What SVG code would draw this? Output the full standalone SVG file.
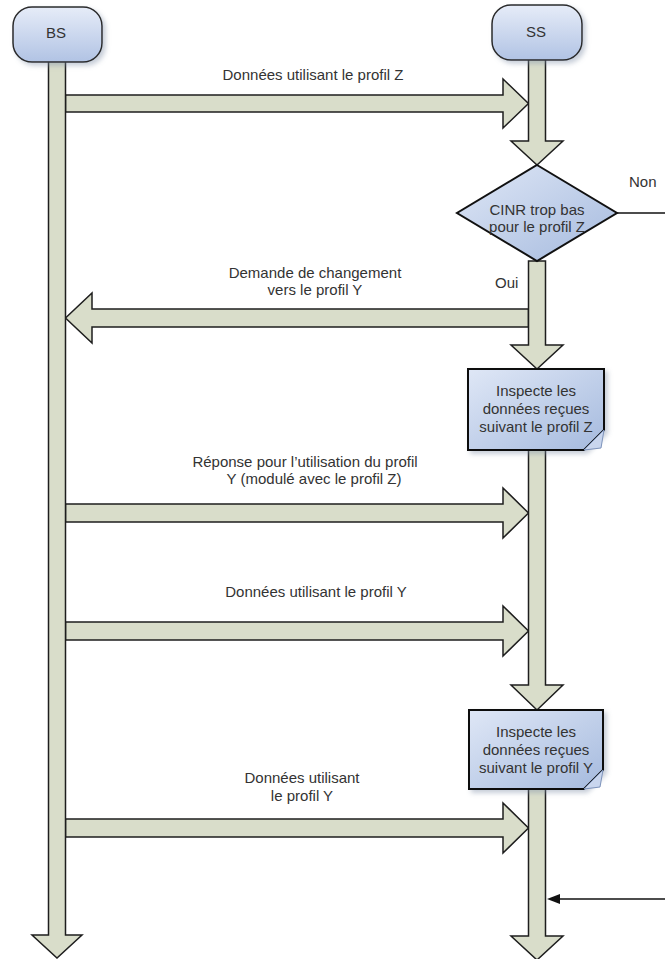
<svg xmlns="http://www.w3.org/2000/svg" width="665" height="959" viewBox="0 0 665 959">
<defs>
  <linearGradient id="gNode" x1="0" y1="0" x2="0" y2="1">
    <stop offset="0" stop-color="#e6ecf8"/>
    <stop offset="1" stop-color="#b1c3e4"/>
  </linearGradient>
  <linearGradient id="gShape" x1="0" y1="0" x2="1" y2="1">
    <stop offset="0" stop-color="#dfe7f6"/>
    <stop offset="1" stop-color="#a5bade"/>
  </linearGradient>
  <filter id="shadow" x="-20%" y="-20%" width="150%" height="150%">
    <feDropShadow dx="3" dy="3" stdDeviation="2.5" flood-color="#8090a8" flood-opacity="0.45"/>
  </filter>
</defs>
<style>
  .life { fill: #d9ddca; stroke: #1e1e1e; stroke-width: 1.5; stroke-linejoin: miter; }
  .msg { fill: #d9ddca; stroke: #1e1e1e; stroke-width: 1.5; stroke-linejoin: miter; }
  .node { fill: url(#gNode); stroke: #2a2a2a; stroke-width: 1.5; }
  .shape { fill: url(#gShape); stroke: #111; stroke-width: 2; }
  .t { font-family: "Liberation Sans", Arial, sans-serif; font-size: 15px; fill: #333; text-anchor: middle; }
  .ts { font-family: "Liberation Sans", Arial, sans-serif; font-size: 15px; fill: #333; }
  .line { stroke: #111; stroke-width: 1.5; fill: none; }
</style>

<g id="connectors">
  <!-- message arrows -->
  <polygon class="msg" points="65.5,95 503,95 503,79 528.5,103.5 503,128 503,112 65.5,112"/>
  <polygon class="msg" points="528.5,309 92,309 92,293 65.5,318 92,343 92,327 528.5,327"/>
  <polygon class="msg" points="65.5,504 503,504 503,488 528.5,513 503,538 503,522 65.5,522"/>
  <polygon class="msg" points="65.5,622 503,622 503,606 528.5,631 503,656 503,640 65.5,640"/>
  <polygon class="msg" points="65.5,819 503,819 503,803 528.5,828 503,853 503,837 65.5,837"/>
  <!-- lifelines -->
  <polygon class="life" points="48.5,60 65.5,60 65.5,935 82,935 57,958 32,935 48.5,935"/>
  <polygon class="life" points="528.5,58 545.5,58 545.5,141 563,141 537,165 511,141 528.5,141"/>
  <polygon class="life" points="528.5,261 545.5,261 545.5,345 563,345 537,369 511,345 528.5,345"/>
  <polygon class="life" points="528.5,450 545.5,450 545.5,685 563,685 537,710 511,685 528.5,685"/>
  <polygon class="life" points="528.5,789 545.5,789 545.5,936 563,936 537,960 511,936 528.5,936"/>
  <!-- Non branch -->
  <line class="line" x1="617" y1="213" x2="665" y2="213"/>
  <!-- incoming thin arrow -->
  <line class="line" x1="665" y1="899" x2="558" y2="899"/>
  <polygon points="547,899 560,894 560,904" fill="#111"/>
  <!-- labels -->
  <text class="t" x="313" y="80">Données utilisant le profil Z</text>
  <text class="ts" x="629" y="187">Non</text>
  <text class="ts" x="495" y="288">Oui</text>
  <text class="t" x="315" y="278">Demande de changement</text>
  <text class="t" x="315" y="295">vers le profil Y</text>
  <text class="t" x="305" y="467">Réponse pour l’utilisation du profil</text>
  <text class="t" x="314" y="484">Y (modulé avec le profil Z)</text>
  <text class="t" x="316" y="597">Données utilisant le profil Y</text>
  <text class="t" x="302" y="783">Données utilisant</text>
  <text class="t" x="302" y="801">le profil Y</text>
</g>

<g id="node-bs">
  <rect class="node" x="13" y="7" width="89" height="55" rx="19" ry="19" filter="url(#shadow)"/>
  <text class="t" x="56" y="38">BS</text>
</g>

<g id="node-ss">
  <rect class="node" x="492" y="5" width="90" height="55" rx="19" ry="19" filter="url(#shadow)"/>
  <text class="t" x="536" y="37">SS</text>
</g>

<g id="node-decision">
  <polygon class="shape" points="537,165 617,213 537,261 457,213"/>
  <text class="t" x="537" y="215">CINR trop bas</text>
  <text class="t" x="537" y="232">pour le profil Z</text>
</g>

<g id="node-inspect-z">
  <path class="shape" d="M468,369 H604 V430 L584,450 H468 Z" filter="url(#shadow)"/>
  <path d="M584,450 L604,430 L601,448 Z" fill="#c9d6ee" stroke="#7d93bb" stroke-width="1"/>
  <text class="t" x="536" y="396">Inspecte les</text>
  <text class="t" x="536" y="414">données reçues</text>
  <text class="t" x="536" y="432">suivant le profil Z</text>
</g>

<g id="node-inspect-y">
  <path class="shape" d="M469,710 H603 V770 L584,789 H469 Z" filter="url(#shadow)"/>
  <path d="M584,789 L603,770 L600,787 Z" fill="#c9d6ee" stroke="#7d93bb" stroke-width="1"/>
  <text class="t" x="536" y="737">Inspecte les</text>
  <text class="t" x="536" y="755">données reçues</text>
  <text class="t" x="536" y="773">suivant le profil Y</text>
</g>
</svg>
